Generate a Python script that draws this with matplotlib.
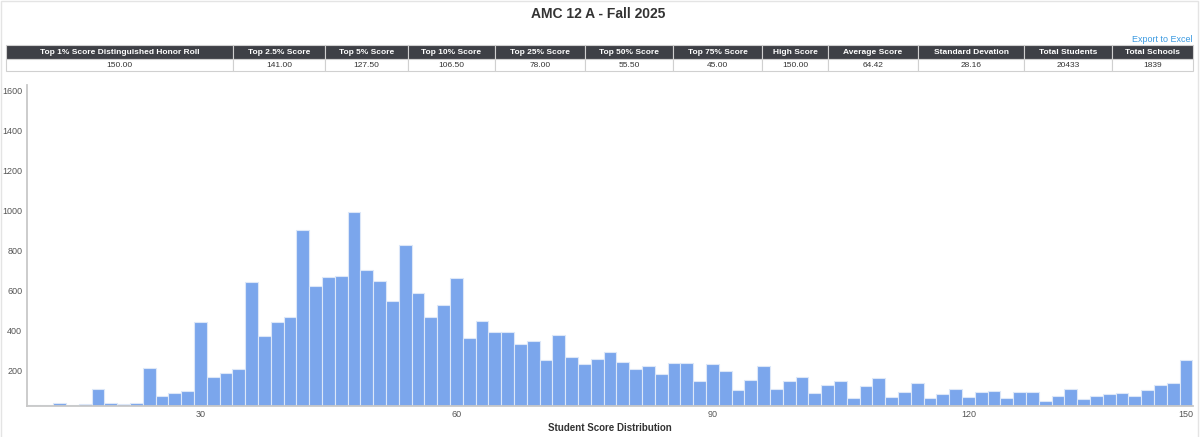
import numpy as np
import matplotlib
matplotlib.use("Agg")
import matplotlib.pyplot as plt
from matplotlib.patches import Rectangle

plt.rcParams['font.family'] = ['Liberation Sans', 'DejaVu Sans']

# score categories that occur (category axis, 142.5 / 147 / 148.5 impossible)
scores = [10.5, 12, 13.5, 15, 16.5, 18, 19.5, 21, 22.5, 24, 25.5, 27, 28.5,
          30, 31.5, 33, 34.5, 36, 37.5, 39, 40.5, 42, 43.5, 45, 46.5, 48, 49.5,
          51, 52.5, 54, 55.5, 57, 58.5, 60, 61.5, 63, 64.5, 66, 67.5, 69, 70.5,
          72, 73.5, 75, 76.5, 78, 79.5, 81, 82.5, 84, 85.5, 87, 88.5, 90, 91.5,
          93, 94.5, 96, 97.5, 99, 100.5, 102, 103.5, 105, 106.5, 108, 109.5,
          111, 112.5, 114, 115.5, 117, 118.5, 120, 121.5, 123, 124.5, 126,
          127.5, 129, 130.5, 132, 133.5, 135, 136.5, 138, 139.5, 141, 144,
          145.5, 150]
counts = [30, 30, 42, 30, 34, 112, 42, 37, 42, 213, 77, 90, 99,
          445, 168, 190, 208, 642, 376, 442, 467, 901, 623, 670, 673, 992, 701,
          648, 550, 826, 587, 467, 527, 662, 366, 449, 396, 396, 336, 349, 255,
          381, 270, 233, 261, 296, 243, 211, 225, 186, 238, 238, 148, 236, 198,
          105, 155, 225, 109, 148, 171, 90, 128, 151, 65, 125, 165,
          69, 94, 140, 65, 85, 109, 72, 94, 102, 65, 94,
          94, 49, 75, 112, 60, 74, 87, 90, 74, 105, 130,
          141, 255]
tick_scores = [30, 60, 90, 120, 150]
y_ticks = [200, 400, 600, 800, 1000, 1200, 1400, 1600]

title = "AMC 12 A - Fall 2025"
headers = ["Top 1% Score Distinguished Honor Roll", "Top 2.5% Score", "Top 5% Score",
           "Top 10% Score", "Top 25% Score", "Top 50% Score", "Top 75% Score",
           "High Score", "Average Score", "Standard Devation", "Total Students",
           "Total Schools"]
values = ["150.00", "141.00", "127.50", "106.50", "78.00", "55.50", "45.00",
          "150.00", "64.42", "28.16", "20433", "1839"]
col_edges = [6, 233, 325, 408, 495, 585, 673, 762, 828, 918, 1024, 1112, 1193]

W, H = 1200, 437
fig = plt.figure(figsize=(W / 100, H / 100), dpi=100)

# page overlay in pixel coords
ov = fig.add_axes([0, 0, 1, 1])
ov.set_xlim(0, W)
ov.set_ylim(H, 0)
ov.axis('off')
ov.add_patch(Rectangle((0.5, 0.5), W - 3, H, fill=False, edgecolor='#e4e4e4', lw=1))
ov.text(598, 14.5, title, ha='center', va='center', fontsize=10,
        fontweight='bold', color='#333333')
ov.text(1193, 40, "Export to Excel", ha='right', va='center', fontsize=6.5,
        color='#3b9ae1')

# stats table
for i in range(len(headers)):
    x0, x1 = col_edges[i], col_edges[i + 1]
    ov.add_patch(Rectangle((x0, 45), x1 - x0, 14, facecolor='#3e4046',
                           edgecolor='#d0d0d0', lw=0.8))
    ov.add_patch(Rectangle((x0, 59), x1 - x0, 12, facecolor='white',
                           edgecolor='#d0d0d0', lw=0.8))
    ov.text((x0 + x1) / 2, 52.5, headers[i], ha='center', va='center',
            fontsize=6, fontweight='bold', color='white')
    ov.text((x0 + x1) / 2, 65.5, values[i], ha='center', va='center',
            fontsize=6, color='#333333')

# histogram
ax = fig.add_axes([27 / W, 1 - 406 / H, (1193 - 27) / W, (406 - 85) / H])
idx = np.arange(len(scores))
colors = ['#a0a0a0' if c < 33 else '#7ba6ec' for c in counts]
ax.bar(idx, counts, width=1.0, color=colors, edgecolor='#dce7f8', linewidth=0.8)
ax.set_xlim(-0.55, len(scores) - 0.45)
ax.set_ylim(25, 1625)
ax.set_xticks([scores.index(s) for s in tick_scores])
ax.set_xticklabels([str(s) for s in tick_scores])
ax.set_yticks(y_ticks)
ax.tick_params(axis='both', length=0, labelsize=6.5, labelcolor='#555555')
ax.tick_params(axis='y', pad=3.5)
ax.tick_params(axis='x', pad=3)
for s in ['top', 'right']:
    ax.spines[s].set_visible(False)
for s in ['left', 'bottom']:
    ax.spines[s].set_color('#c8c8c8')
    ax.spines[s].set_linewidth(1.3)
ax.set_xlabel("Student Score Distribution", fontsize=7, fontweight='bold',
              color='#333333', labelpad=3)

fig.savefig("out.png", dpi=100)
